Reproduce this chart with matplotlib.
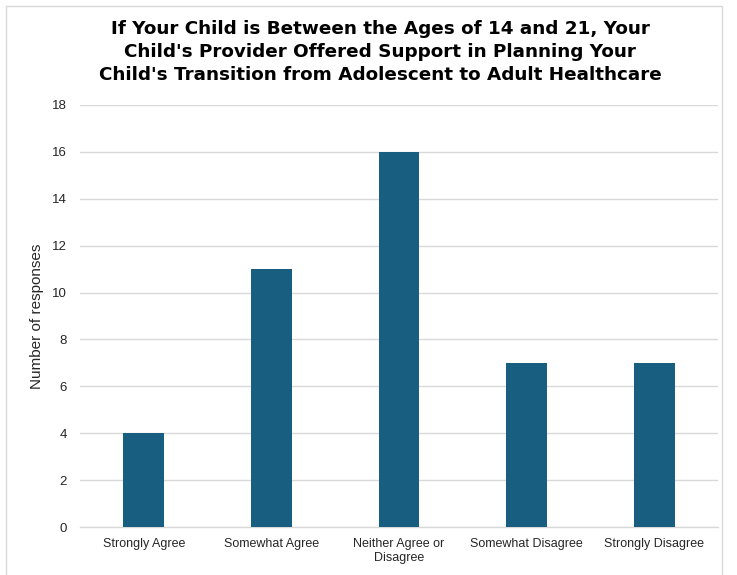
import matplotlib
matplotlib.use("Agg")
import matplotlib.pyplot as plt
from matplotlib.patches import Rectangle

categories = ["Strongly Agree", "Somewhat Agree", "Neither Agree or\nDisagree",
              "Somewhat Disagree", "Strongly Disagree"]
responses = [4, 11, 16, 7, 7]
y_ticks = [0, 2, 4, 6, 8, 10, 12, 14, 16, 18]

title = ("If Your Child is Between the Ages of 14 and 21, Your\n"
         "Child's Provider Offered Support in Planning Your\n"
         "Child's Transition from Adolescent to Adult Healthcare")

fig = plt.figure(figsize=(7.37, 5.75), dpi=100)
fig.patch.set_facecolor("white")

# light frame around the chart
fig.add_artist(Rectangle((6 / 737, -0.05), (722 - 6) / 737, 1 - 6 / 575 + 0.05,
                         transform=fig.transFigure, fill=False,
                         edgecolor="#d9d9d9", linewidth=1.0))

ax = fig.add_axes([80 / 737, 1 - 527 / 575, (718 - 80) / 737, (527 - 105) / 575])
x = range(len(categories))
ax.bar(x, responses, width=0.32, color="#175e80", zorder=3)

ax.set_xlim(-0.5, len(categories) - 0.5)
ax.set_ylim(0, 18)
ax.set_yticks(y_ticks)
ax.set_xticks(list(x))
ax.set_xticklabels(categories, fontsize=9, color="#262626", family="Liberation Sans")
ax.tick_params(axis="y", labelsize=9.5, labelcolor="#262626", length=0, pad=9.5)
ax.tick_params(axis="x", length=0, pad=8)
for lbl in ax.get_yticklabels():
    lbl.set_family("Liberation Sans")

ax.grid(axis="y", color="#d9d9d9", linewidth=1.0, zorder=0)
for side in ["top", "right", "left"]:
    ax.spines[side].set_visible(False)
ax.spines["bottom"].set_color("#d9d9d9")
ax.spines["bottom"].set_linewidth(1.0)

ax.set_ylabel("Number of responses", fontsize=11, color="#262626",
              family="Liberation Sans")
ax.yaxis.set_label_coords(-0.056, 0.5)

fig.text(380 / 737, 1 - 52 / 575, title, ha="center", va="center",
         fontsize=13.2, fontweight="bold", family="DejaVu Sans",
         linespacing=1.33, color="black")

fig.savefig("out.png", dpi=100)
